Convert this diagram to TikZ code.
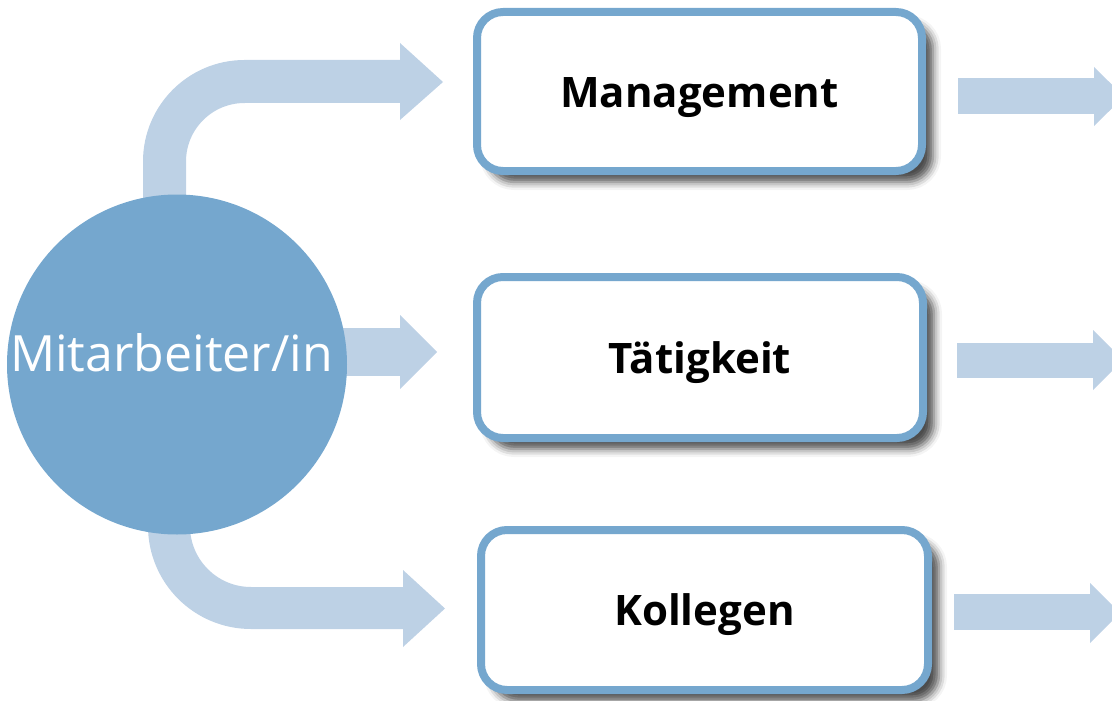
\documentclass[tikz,border=0pt]{standalone}
\usepackage{fontspec}
\setmainfont{Open Sans}
\usetikzlibrary{shadows.blur}
\definecolor{circblue}{HTML}{75A7CE}
\definecolor{arrowblue}{HTML}{BDD1E5}
\tikzset{
  shaft/.style={draw=arrowblue, line cap=butt},
  head/.style={fill=arrowblue},
  box/.style={draw=circblue, line width=8pt, fill=white, rounded corners=26pt,
    inner sep=0pt, text height=31pt, text depth=0pt,
    font=\fontsize{42}{48}\selectfont\bfseries,
    blur shadow={shadow xshift=11pt, shadow yshift=-11pt, shadow blur radius=8pt, shadow opacity=70}},
  hub/.style={circle, fill=circblue, minimum size=340pt, inner sep=0pt},
  hubtext/.style={text=white, anchor=base, inner sep=0pt, font=\fontsize{50}{56}\selectfont}
}
\begin{document}
\begin{tikzpicture}[x=1pt, y=-1pt]
\useasboundingbox (0,0) rectangle (1112,701);
\clip (0,0) rectangle (1112,701);
% left arrows
\draw[shaft, line width=43pt, rounded corners=80pt] (164.5,240) -- (164.5,81.5) -- (401,81.5);
\fill[head] (400,43) -- (443,82) -- (400,120) -- cycle;
\draw[shaft, line width=48pt] (300,352) -- (401,352);
\fill[head] (400,315) -- (437,352) -- (400,389) -- cycle;
\draw[shaft, line width=42pt, rounded corners=82pt] (169,490) -- (169,608) -- (404,608);
\fill[head] (403,570) -- (445,608.5) -- (403,647) -- cycle;
% right arrows
\draw[shaft, line width=36pt] (958,96) -- (1095,96);
\fill[head] (1094,67) -- (1124,96.5) -- (1094,126) -- cycle;
\draw[shaft, line width=35pt] (957,360.5) -- (1094,360.5);
\fill[head] (1093,330) -- (1123,360) -- (1093,390) -- cycle;
\draw[shaft, line width=36pt] (954,612) -- (1091,612);
\fill[head] (1090,583) -- (1120,613) -- (1090,643) -- cycle;
% hub
\node[hub] (hub) at (177,364.5) {};
\node[hubtext] (hubtxt) at (171.5,371) {Mitarbeiter/in};
% boxes
\node[box, minimum width=445pt, minimum height=159pt] (m) at (699.5,91.5) {Management};
\node[box, minimum width=446pt, minimum height=161pt] (t) at (700,357.5) {Tätigkeit};
\node[box, minimum width=447pt, minimum height=160pt] (k) at (704.5,610) {Kollegen};
\end{tikzpicture}
\end{document}
